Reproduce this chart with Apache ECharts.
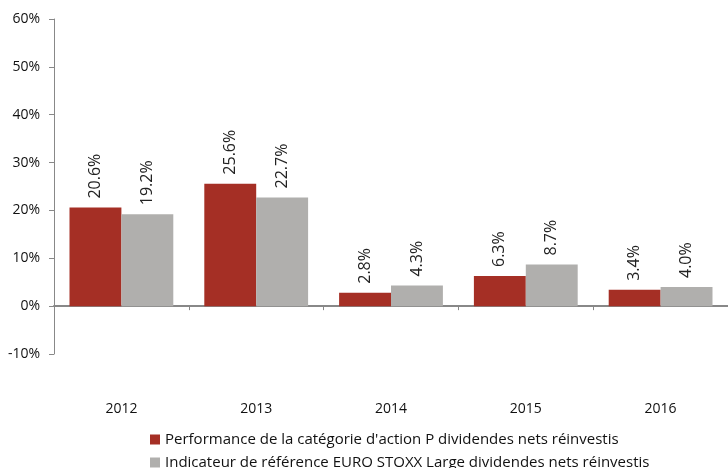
<!DOCTYPE html>
<html><head><meta charset="utf-8">
<script src="https://cdn.jsdelivr.net/npm/echarts@6/dist/echarts.min.js"></script>
<style>html,body{margin:0;padding:0;background:#fff}#c{width:728px;height:468px}</style>
</head><body><div id="c"></div>
<script>
var categories = ['2012', '2013', '2014', '2015', '2016'];
var seriesNames = ["Performance de la catégorie d'action P dividendes nets réinvestis", "Indicateur de référence EURO STOXX Large dividendes nets réinvestis"];
var fundValues = [20.6, 25.6, 2.8, 6.3, 3.4];
var indexValues = [19.2, 22.7, 4.3, 8.7, 4.0];
var yMin = -10, yMax = 60, yStep = 10;

var font = 'Open Sans';
var chart = echarts.init(document.getElementById('c'));
function lbl() {
  return {
    show: true, position: 'top', rotate: 90, align: 'left', verticalAlign: 'middle',
    distance: 9, fontFamily: font, fontSize: 16, color: '#222',
    formatter: function (p) { return p.value.toFixed(1) + '%'; }
  };
}
function leg(i, top) {
  return {
    orient: 'vertical', left: 145, top: top, itemWidth: 10, itemHeight: 10, itemGap: 5,
    icon: 'rect', textStyle: { fontFamily: font, fontSize: 15, color: '#111' },
    data: [seriesNames[i]]
  };
}
chart.setOption({
  animation: false,
  grid: { left: 54, right: 0, top: 19, bottom: 114, containLabel: false },
  legend: [leg(0, 427), leg(1, 450)],
  xAxis: {
    type: 'category', data: categories,
    axisLine: { onZero: true, lineStyle: { color: '#888', width: 2 } },
    axisTick: { show: true, length: 4, lineStyle: { color: '#888' } },
    axisLabel: { margin: 48, fontFamily: font, fontSize: 14, color: '#111' }
  },
  yAxis: {
    type: 'value', min: yMin, max: yMax, interval: yStep,
    axisLine: { show: true, lineStyle: { color: '#888', width: 1 } },
    axisTick: { show: true, length: 5, lineStyle: { color: '#888' } },
    splitLine: { show: false },
    axisLabel: { margin: 14, fontFamily: font, fontSize: 14, color: '#111', formatter: '{value}%' }
  },
  series: [
    { name: seriesNames[0], type: 'bar', data: fundValues, barGap: '0%', barCategoryGap: '23%',
      itemStyle: { color: '#A52F25' }, label: lbl() },
    { name: seriesNames[1], type: 'bar', data: indexValues,
      itemStyle: { color: '#B0AFAD' }, label: lbl() }
  ]
});
</script></body></html>
